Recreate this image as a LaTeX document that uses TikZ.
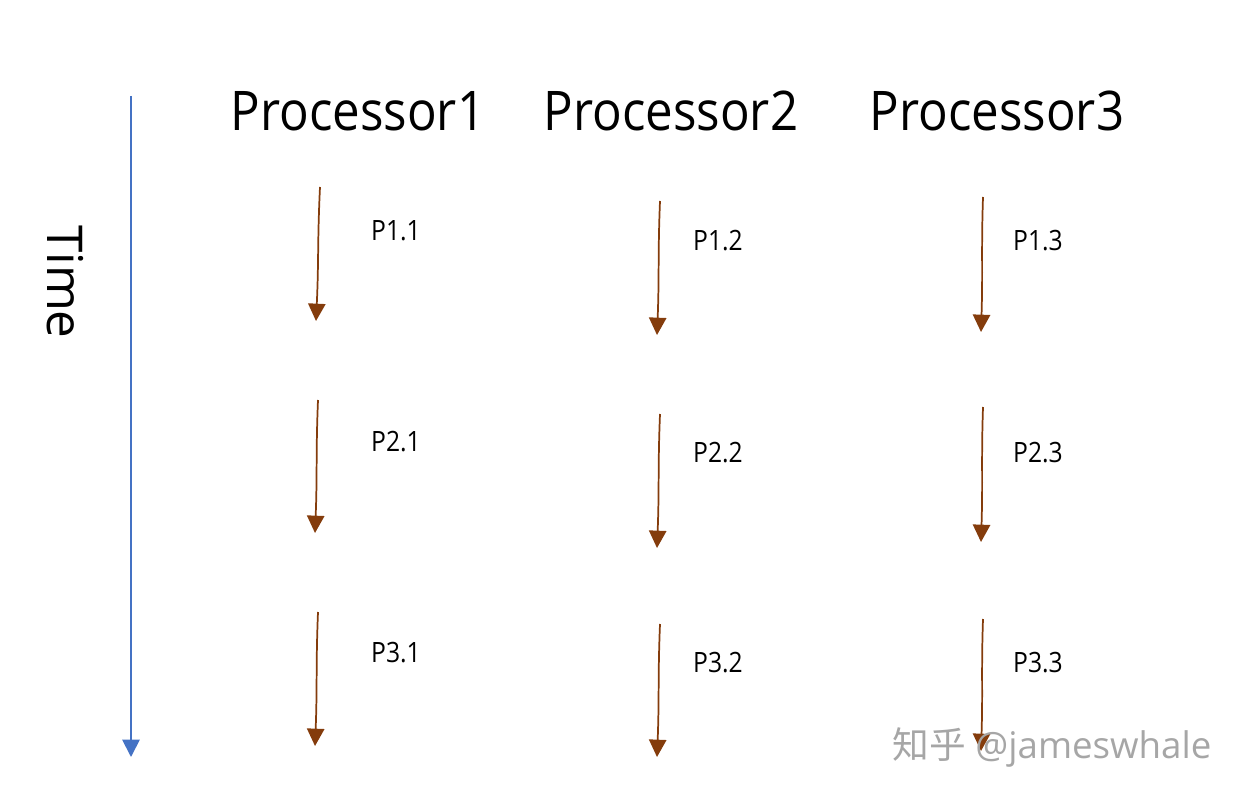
\documentclass[tikz,border=0pt]{standalone}
\usepackage{fontspec}
\setmainfont{Open Sans}
\newfontfamily\titlefont[FakeStretch=0.9]{Open Sans}
\newfontfamily\labelfont[FakeStretch=0.88]{Open Sans}
\newfontfamily\cjkfont{Noto Sans CJK SC}
\usetikzlibrary{arrows.meta,calc}
\definecolor{axisblue}{HTML}{4472C4}
\definecolor{procbrown}{HTML}{843C0C}
\definecolor{wmgray}{HTML}{A6A6A6}
\tikzset{
  timeaxis/.style={draw=axisblue, line width=1.4pt, -{Triangle[width=13pt,length=13pt]}},
  procarrow/.style={draw=procbrown, line width=1.3pt, -{Triangle[width=13pt,length=13pt]}},
  proctitle/.style={font=\titlefont\fontsize{41}{48}\selectfont, inner sep=0pt},
  steplabel/.style={font=\labelfont\fontsize{21}{25}\selectfont, inner sep=0pt},
  timelabel/.style={font=\fontsize{37}{44}\selectfont, inner sep=0pt, rotate=-90},
  watermark/.style={font=\fontsize{27.5}{32}\selectfont, text=wmgray, inner sep=0pt}
}
\begin{document}
\begin{tikzpicture}[x=0.75pt,y=-0.75pt]
\useasboundingbox (0,0) rectangle (1246,802);
% time axis
\coordinate (ttop) at (131,96);
\coordinate (tbot) at (131,757);
\draw[timeaxis] (ttop) -- (tbot);
\node[timelabel] (time) at (65,282) {Time};
% titles
\node[proctitle] (p1) at (358,111) {Processor1};
\node[proctitle] (p2) at (671,111) {Processor2};
\node[proctitle] (p3) at (997,111) {Processor3};
% column 1
\coordinate (a11) at (320,187); \coordinate (b11) at (316,321);
\coordinate (a21) at (318,400); \coordinate (b21) at (315,533);
\coordinate (a31) at (318,612); \coordinate (b31) at (315,746);
% column 2
\coordinate (a12) at (660,201); \coordinate (b12) at (657,335);
\coordinate (a22) at (660,414); \coordinate (b22) at (657,548);
\coordinate (a32) at (660,624); \coordinate (b32) at (657,757);
% column 3
\coordinate (a13) at (983,197); \coordinate (b13) at (981,332);
\coordinate (a23) at (983,407); \coordinate (b23) at (981,542);
\coordinate (a33) at (983,619); \coordinate (b33) at (981,751);
\foreach \r in {1,2,3}{
  \foreach \c in {1,2,3}{
    \draw[procarrow] (a\r\c) .. controls ($(a\r\c)!0.4!(b\r\c)+(-1,0)$) and ($(a\r\c)!0.55!(b\r\c)+(1,0)$) .. (b\r\c);
  }
}
% labels
\node[steplabel] (l11) at (396,231) {P1.1};
\node[steplabel] (l21) at (396,442) {P2.1};
\node[steplabel] (l31) at (396,653) {P3.1};
\node[steplabel] (l12) at (718,241) {P1.2};
\node[steplabel] (l22) at (718,453) {P2.2};
\node[steplabel] (l32) at (718,663) {P3.2};
\node[steplabel] (l13) at (1038,241) {P1.3};
\node[steplabel] (l23) at (1038,453) {P2.3};
\node[steplabel] (l33) at (1038,663) {P3.3};
% watermark
\node[watermark] (wm) at (1052,747) {{\cjkfont 知乎} @jameswhale};
\end{tikzpicture}
\end{document}
